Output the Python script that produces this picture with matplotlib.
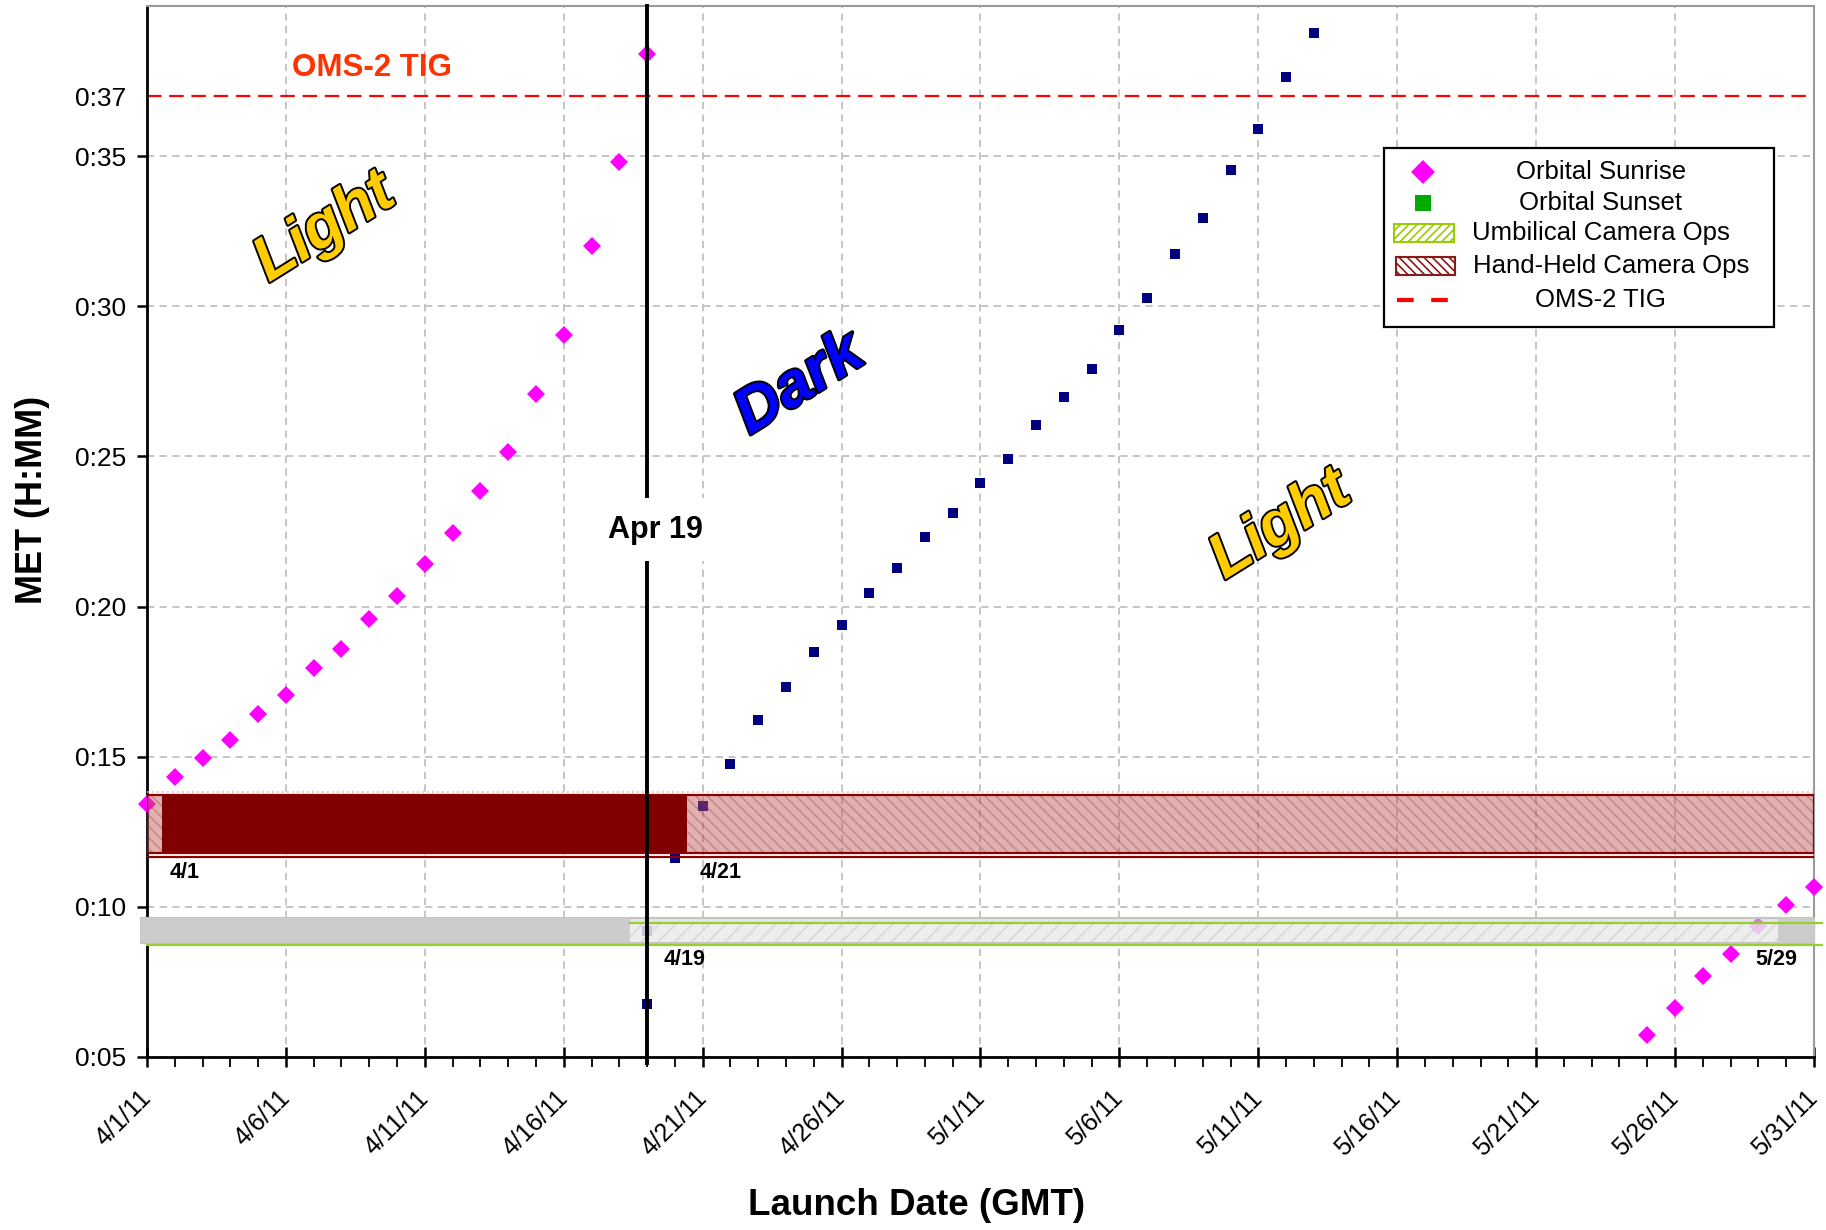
import matplotlib
matplotlib.use("Agg")
import matplotlib.pyplot as plt
import matplotlib.patheffects as pe
from matplotlib.patches import Rectangle
from matplotlib.lines import Line2D

plt.rcParams['font.family'] = ['Liberation Sans', 'DejaVu Sans']
plt.rcParams['hatch.linewidth'] = 1.2

# ---------------- data ----------------
# x = days after 4/1/11, y = MET in minutes
x_tick_days = [0, 5, 10, 15, 20, 25, 30, 35, 40, 45, 50, 55, 60]
x_tick_labels = ["4/1/11", "4/6/11", "4/11/11", "4/16/11", "4/21/11", "4/26/11",
                 "5/1/11", "5/6/11", "5/11/11", "5/16/11", "5/21/11", "5/26/11", "5/31/11"]
y_tick_minutes = [5, 10, 15, 20, 25, 30, 35, 37]

sunrise_days = [0, 1, 2, 3, 4, 5, 6, 7, 8, 9, 10, 11, 12, 13, 14, 15, 16, 17, 18,
                54, 55, 56, 57, 58, 59, 60]
sunrise_met = [13.43, 14.32, 14.95, 15.57, 16.42, 17.04, 17.94, 18.60, 19.57, 20.35,
               21.43, 22.44, 23.84, 25.16, 27.07, 29.05, 32.00, 34.80, 38.40,
               5.74, 6.63, 7.68, 8.42, 9.35, 10.05, 10.67]

sunset_days = [18, 18, 19, 20, 21, 22, 23, 24, 25, 26, 27, 28, 29, 30, 31, 32, 33,
               34, 35, 36, 37, 38, 39, 40, 41, 42]
sunset_met = [6.75, 9.20, 11.64, 13.35, 14.75, 16.23, 17.32, 18.48, 19.37, 20.46,
              21.28, 22.33, 23.10, 24.11, 24.93, 26.06, 26.99, 27.92, 29.20, 30.29,
              31.73, 32.93, 34.53, 35.89, 37.63, 39.11]

oms2_tig_met = 37.0
launch_day = 18           # Apr 19

handheld_y = (11.80, 13.72)
handheld_solid_x = (0.55, 19.45)
umbilical_y = (8.80, 9.63)
umbilical_hatch_x = (17.4, 58.7)

# ---------------- figure ----------------
fig = plt.figure(figsize=(18.26, 12.30), dpi=100)
ax = fig.add_axes([0.0805, 0.1407, 0.9129, 0.8544])
ax.set_xlim(0, 60)
ax.set_ylim(5, 40)

# grid
ax.set_xticks(x_tick_days)
ax.set_xticks(range(0, 61), minor=True)
ax.set_yticks(y_tick_minutes)
ax.set_yticklabels([f"0:{m:02d}" for m in y_tick_minutes])
ax.set_xticklabels(x_tick_labels, rotation=45, ha='right', va='center',
                   rotation_mode='anchor')
ax.grid(True, which='major', color='#c0c0c0', linestyle=(0, (4, 3)), linewidth=1.3, zorder=0)
ax.axhline(40, color='#c0c0c0', linestyle=(0, (4, 3)), linewidth=1.3, zorder=0)
ax.set_axisbelow(True)

ax.tick_params(axis='y', which='major', direction='out', length=7, width=1.8,
               labelsize=19, pad=8)
ax.tick_params(axis='x', which='major', direction='inout', length=14, width=1.8,
               labelsize=18, pad=20)
ax.tick_params(axis='x', which='minor', direction='out', length=7, width=1.3)
ax.yaxis.get_major_ticks()[-1].tick1line.set_visible(False)
ax.yaxis.get_major_ticks()[-1].gridline.set_visible(False)

for s in ('left', 'bottom'):
    ax.spines[s].set_color('black')
    ax.spines[s].set_linewidth(2)
for s in ('top', 'right'):
    ax.spines[s].set_color('#9a9a9a')
    ax.spines[s].set_linewidth(1.5)

# markers
ax.plot(sunrise_days, sunrise_met, linestyle='none', marker='D', markersize=9.5,
        markeredgewidth=0, color='#ff00ff', zorder=3, clip_on=False)
ax.plot(sunset_days, sunset_met, linestyle='none', marker='s', markersize=6.5,
        markeredgewidth=0, color='#000080', zorder=3, clip_on=False)

# hand-held camera ops band
ax.add_patch(Rectangle((0, handheld_y[0]), 60, handheld_y[1] - handheld_y[0],
                       facecolor=(0.74, 0.32, 0.32, 0.45), edgecolor=(0.62, 0.25, 0.25, 0.35),
                       hatch='\\\\\\', linewidth=0, zorder=4))
ax.add_patch(Rectangle((handheld_solid_x[0], handheld_y[0] - 0.04),
                       handheld_solid_x[1] - handheld_solid_x[0],
                       handheld_y[1] - handheld_y[0] + 0.08,
                       facecolor='#800000', edgecolor='none', zorder=4.5))
ax.add_patch(Rectangle((0, handheld_y[0]), 60, handheld_y[1] - handheld_y[0],
                       fill=False, edgecolor='#8b0000', linewidth=1.6, zorder=4.6))
ax.plot([0, 60], [handheld_y[0] - 0.13] * 2, color='#8b0000', lw=1.6, zorder=4.6)
ax.plot([0, 60], [handheld_y[1] + 0.10] * 2, color='#e9b9aa', lw=1.2,
        linestyle=(0, (1, 2)), zorder=4.6)

# umbilical camera ops band
ax.add_patch(Rectangle((-0.2, umbilical_y[0]), 60.2, umbilical_y[1] - umbilical_y[0],
                       facecolor=(0.82, 0.82, 0.82, 0.55), edgecolor='#c4c4c4',
                       linewidth=1.5, zorder=4, clip_on=False))
ax.add_patch(Rectangle((umbilical_hatch_x[0], umbilical_y[0] + 0.03),
                       umbilical_hatch_x[1] - umbilical_hatch_x[0], 0.60,
                       facecolor=(0.95, 0.95, 0.95, 0.65), edgecolor=(0.8, 0.8, 0.8, 0.6),
                       hatch='//', linewidth=0, zorder=4.2))
ax.add_patch(Rectangle((-0.2, umbilical_y[0]), umbilical_hatch_x[0] + 0.2,
                       umbilical_y[1] - umbilical_y[0], facecolor='#cccccc',
                       edgecolor='none', zorder=4.3, clip_on=False))
ax.add_patch(Rectangle((umbilical_hatch_x[1], umbilical_y[0]), 60 - umbilical_hatch_x[1],
                       umbilical_y[1] - umbilical_y[0], facecolor='#cccccc',
                       edgecolor='none', zorder=4.3))
ax.plot([umbilical_hatch_x[0], 60.3], [9.45, 9.45], color='#9acd32', lw=1.6, zorder=4.5,
        clip_on=False)
ax.plot([0, 60.3], [8.73, 8.73], color='#9acd32', lw=1.6, zorder=4.5, clip_on=False)

# OMS-2 TIG line
ax.axhline(oms2_tig_met, color='#ff0000', linewidth=1.6, linestyle=(0, (6.5, 3.5)), zorder=2)

# launch date line
ax.plot([launch_day, launch_day], [4.8, 40], color='black', linewidth=2.8, zorder=6,
        clip_on=False)
ax.text(launch_day + 0.3, 22.56, "Apr 19", fontsize=22, fontweight='bold', ha='center',
        va='center', zorder=7,
        bbox=dict(boxstyle='square,pad=0.55', facecolor='white', edgecolor='none'))

# annotations
ax.text(8.1, 37.95, "OMS-2 TIG", fontsize=22.5, fontweight='bold', color='#ff3300',
        ha='center', va='center', zorder=5)
ax.text(0.8, 11.15, "4/1", fontsize=15.5, fontweight='bold', ha='left', va='center', zorder=5)
ax.text(19.9, 11.15, "4/21", fontsize=15.5, fontweight='bold', ha='left', va='center', zorder=5)
ax.text(18.6, 8.25, "4/19", fontsize=15.5, fontweight='bold', ha='left', va='center', zorder=5)
ax.text(57.9, 8.25, "5/29", fontsize=15.5, fontweight='bold', ha='left', va='center', zorder=5)

outline = [pe.withStroke(linewidth=2.8, foreground='black')]
for (tx, ty, word, col) in [(6.4, 32.6, "Light", '#ffcc00'),
                            (23.5, 27.4, "Dark", '#0000ff'),
                            (40.8, 22.7, "Light", '#ffcc00')]:
    ax.text(tx, ty, word, fontsize=45, fontweight='bold', fontstyle='italic', color=col,
            rotation=32, ha='center', va='center', path_effects=outline, zorder=5)

# axis labels
fig.text(0.0179, 0.5938, "MET (H:MM)", rotation=90, fontsize=26, fontweight='bold',
         ha='center', va='center')
fig.text(0.5019, 0.0203, "Launch Date (GMT)", fontsize=26.5, fontweight='bold',
         ha='center', va='center')

# ---------------- legend (drawn in axes fraction) ----------------
T = ax.transAxes
lx0, lx1, ly0, ly1 = 0.7423, 0.9763, 0.6944, 0.8649
ax.add_patch(Rectangle((lx0, ly0), lx1 - lx0, ly1 - ly0, transform=T, facecolor='white',
                       edgecolor='black', linewidth=1.6, zorder=8))
rows = [0.8416, 0.8129, 0.7841, 0.7530, 0.7198]
hx = 0.7654
text_x = [0.8722, 0.8722, 0.8722, 0.8785, 0.8722]
leg_labels = ["Orbital Sunrise", "Orbital Sunset", "Umbilical Camera Ops",
              "Hand-Held Camera Ops", "OMS-2 TIG"]
ax.add_line(Line2D([hx], [rows[0]], transform=T, marker='D', markersize=12,
                   markeredgewidth=0, color='#ff00ff', zorder=9))
ax.add_line(Line2D([hx], [rows[1]], transform=T, marker='s', markersize=12,
                   markeredgewidth=0, color='#00aa00', zorder=9))
ax.add_patch(Rectangle((0.7479, rows[2] - 0.0085), 0.0363, 0.017, transform=T,
                       facecolor='white', edgecolor='#99cc00', hatch='////',
                       linewidth=1.5, zorder=9))
ax.add_patch(Rectangle((0.7493, rows[3] - 0.0085), 0.0356, 0.017, transform=T,
                       facecolor='white', edgecolor='#8b1a1a', hatch='\\\\\\\\',
                       linewidth=1.5, zorder=9))
ax.add_line(Line2D([0.7500, 0.7849], [rows[4], rows[4]], transform=T, color='#ff0000',
                   linewidth=3, linestyle=(0, (4.0, 4.2)), zorder=9))
for r, xx, lab in zip(rows, text_x, leg_labels):
    ax.text(xx, r, lab, transform=T, fontsize=18.5, ha='center', va='center', zorder=9)

fig.savefig("out.png", dpi=100)
